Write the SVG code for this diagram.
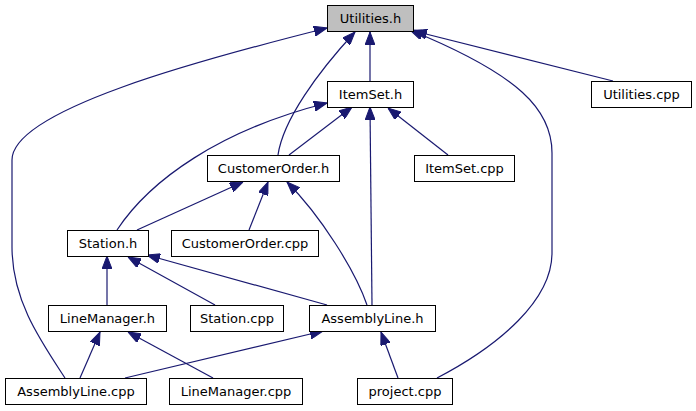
<svg xmlns="http://www.w3.org/2000/svg" width="696" height="411" viewBox="0 0 696 411">
<style>
.n rect{fill:#ffffff;stroke:#000000;stroke-width:1}
.n text{font-family:"DejaVu Sans",sans-serif;font-size:13px;text-anchor:middle;fill:#000000}
.e path{fill:none;stroke:#191970;stroke-width:1.2;marker-end:url(#ah)}
</style>
<defs>
<marker id="ah" markerUnits="userSpaceOnUse" markerWidth="13" markerHeight="10" refX="13" refY="5" orient="auto">
<path d="M0,0 L13,5 L0,10 z" fill="#191970" stroke="#191970" stroke-width="1"/>
</marker>
</defs>
<rect width="696" height="411" fill="#ffffff"/>
<g id="edges" class="e">
<path d="M370,81 L370,32"/>
<path d="M278,155 C283,120 318,72 355,32"/>
<path d="M65,378 C40,340 12,300 12,247 L12,160 C12,110 200,60 327,28"/>
<path d="M437,378 C500,345 552,300 552,253 L552,153 C552,110 520,75 410,30"/>
<path d="M613,81 L414,31"/>
<path d="M289,155 L352,107"/>
<path d="M117,230 C150,180 220,130 327,103"/>
<path d="M372,305 L370,107"/>
<path d="M448,155 L388,108"/>
<path d="M137,230 L243,182"/>
<path d="M249,230 L268,182"/>
<path d="M367,305 C355,270 320,215 287,182"/>
<path d="M107,305 L107,256"/>
<path d="M215,305 L128,257"/>
<path d="M327,305 L147,255"/>
<path d="M80,378 L100,332"/>
<path d="M213,378 L128,332"/>
<path d="M125,378 L323,331"/>
<path d="M398,378 L381,332"/>
</g>
<g id="utilities_h" class="n"><rect x="327.5" y="5.5" width="86" height="26" style="fill:#bfbfbf"/><text x="370.5" y="23">Utilities.h</text></g>
<g id="itemset_h" class="n"><rect x="327.5" y="81.5" width="86" height="26"/><text x="370.5" y="99">ItemSet.h</text></g>
<g id="utilities_cpp" class="n"><rect x="591.5" y="81.5" width="100" height="26"/><text x="641.5" y="99">Utilities.cpp</text></g>
<g id="customerorder_h" class="n"><rect x="207.5" y="155.5" width="132" height="26"/><text x="273.5" y="173">CustomerOrder.h</text></g>
<g id="itemset_cpp" class="n"><rect x="414.5" y="155.5" width="100" height="26"/><text x="464.5" y="173">ItemSet.cpp</text></g>
<g id="station_h" class="n"><rect x="67.5" y="230.5" width="81" height="26"/><text x="108" y="248">Station.h</text></g>
<g id="customerorder_cpp" class="n"><rect x="171.5" y="230.5" width="147" height="26"/><text x="245" y="248">CustomerOrder.cpp</text></g>
<g id="linemanager_h" class="n"><rect x="48.5" y="305.5" width="118" height="26"/><text x="107.5" y="323">LineManager.h</text></g>
<g id="station_cpp" class="n"><rect x="190.5" y="305.5" width="93" height="26"/><text x="237" y="323">Station.cpp</text></g>
<g id="assemblyline_h" class="n"><rect x="309.5" y="305.5" width="126" height="26"/><text x="372.5" y="323">AssemblyLine.h</text></g>
<g id="assemblyline_cpp" class="n"><rect x="5.5" y="378.5" width="141" height="26"/><text x="76" y="396">AssemblyLine.cpp</text></g>
<g id="linemanager_cpp" class="n"><rect x="169.5" y="378.5" width="133" height="26"/><text x="236" y="396">LineManager.cpp</text></g>
<g id="project_cpp" class="n"><rect x="357.5" y="378.5" width="95" height="26"/><text x="405" y="396">project.cpp</text></g>
</svg>
